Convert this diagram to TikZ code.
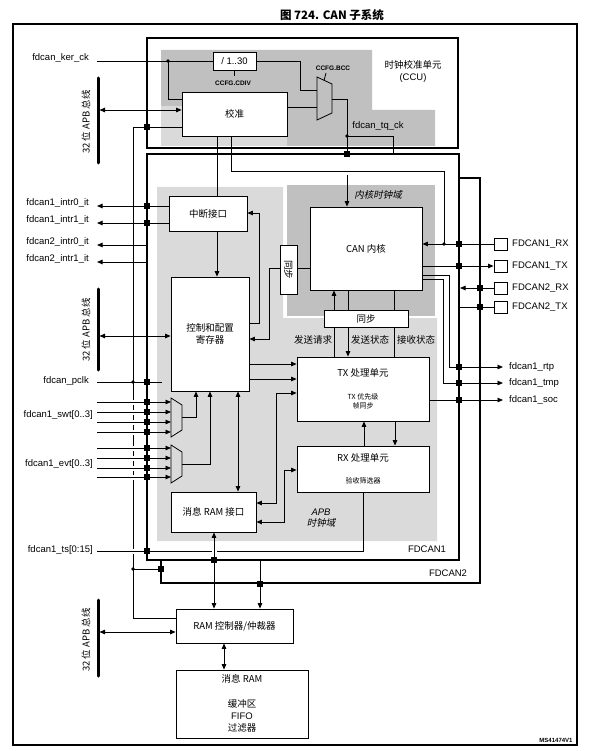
\documentclass[tikz,border=0pt]{standalone}
\usepackage{fontspec}
\setmainfont{Liberation Sans}
\newfontfamily\cjk{Noto Sans CJK SC}
\newfontfamily\cjki{Noto Sans CJK SC}[FakeSlant=0.2]
\usetikzlibrary{arrows.meta}
\definecolor{gdark}{HTML}{C0C0C0}
\definecolor{glight}{HTML}{DADADA}
\newcommand\bx[7][box]{\node[#1,minimum width={(#5-#3)*1pt},minimum height={(#6-#4)*1pt}] (#2) at ({(#3+#5)/2},{(#4+#6)/2}) {#7};}
\newcommand\myjq[2]{\fill (#1-3,#2-3) rectangle (#1+3,#2+3);}
\newcommand\myjd[2]{\fill (#1,#2) circle[radius=1.8];}
\newcommand\hopgap[2]{\fill[white] (#1-2.5,#2-2.5) rectangle (#1+2.5,#2+2.5);}
\begin{document}
\begin{tikzpicture}[x=1pt,y=-1pt,
  box/.style={draw,fill=white,line width=0.8pt,inner sep=0pt,align=center,font={\cjk\fontsize{9.5}{11.5}\selectfont}},
  frame/.style={draw,fill=white,line width=1.6pt,inner sep=0pt},
  w/.style={line width=0.8pt},
  ar/.style={-{Triangle[length=5.5pt,width=4.5pt]}},
  dar/.style={{Triangle[length=5.5pt,width=4.5pt]}-{Triangle[length=5.5pt,width=4.5pt]}},
  bus/.style={line width=3pt,line cap=round},
  lab/.style={inner sep=0pt,font=\fontsize{9.5}{11}\selectfont},
  clab/.style={inner sep=0pt,font={\cjk\fontsize{9.5}{11}\selectfont}},
  slab/.style={inner sep=0pt,font={\cjk\fontsize{7}{8}\selectfont}},
  tiny/.style={inner sep=0pt,font=\bfseries\fontsize{6.5}{7}\selectfont},
  buslab/.style={inner sep=0pt,rotate=90,font={\cjk\fontsize{9.5}{11}\selectfont}}]
\useasboundingbox (0,0) rectangle (588,751);
\node[inner sep=0pt,font={\cjk\bfseries\fontsize{11.5}{13}\selectfont}] (title) at (332,15) {图 724. CAN 子系统};
\draw[line width=1.2pt] (13,24) rectangle (577,745);

% ---------- CCU ----------
\bx[frame]{ccu}{147}{38}{458}{148}{}
\fill[gdark] (161,50) -- (372,50) -- (372,110) -- (435,110) -- (435,146) -- (161,146) -- cycle;
\fill[glight] (161,106) rectangle (287,146);
\node[clab] (ccut1) at (413,65) {时钟校准单元};
\node[lab] (ccut2) at (413,78) {(CCU)};
\bx{div}{213}{52}{256}{70}{\fontspec{Liberation Sans}/ 1..30}
\bx{cal}{182}{92}{287}{136}{校准}
\node[tiny] (cdiv) at (233,83) {CCFG.CDIV};
\node[tiny] (bcc) at (333,68) {CCFG.BCC};
\node[lab,anchor=east] (kerlab) at (89,58) {fdcan\_ker\_ck};
\coordinate (kin) at (97,61);
\draw[w] (kin) -- (div.west);
\myjd{168}{61}
\draw[w] (168,61) -- (168,99) -- (cal.west |- 0,99);
\draw[w] (div.east) -- (300,61) -- (300,90) -- (317,90);
\draw[w] (div.south) -- ++(0,6);
\draw[w] (cal.east |- 0,107) -- (317,107);
\draw[w] (317,77) -- (332,84) -- (332,113) -- (317,120) -- cycle;
\draw[w] (324,80.5) -- (326,73);
\draw[w] (332,99) -- (347,99) -- (347,167);
\myjd{347}{136}
\draw[w] (347,136) -- (393,136) -- (393,154);
\node[lab] (tqlab) at (378,126) {fdcan\_tq\_ck};

% bus 1
\draw[bus] (98,78) -- (98,163);
\node[buslab] (bus1lab) at (86,122) {32 位 APB 总线};
\draw[w,dar] (99.5,110) -- (cal.west |- 0,110);

% ---------- FDCAN boxes ----------
\bx[frame]{fd2}{161}{178}{480}{583}{}
\bx[frame]{fd1}{147}{154}{459}{560}{}
\myjq{347}{154}
\fill[glight] (157,187) -- (283,187) -- (283,318) -- (437,318) -- (437,541) -- (157,541) -- cycle;
\fill[gdark] (287,185) rectangle (435,316);
\node[inner sep=0pt,font={\cjki\fontsize{9.5}{11}\selectfont}] (coredom) at (378,195) {内核时钟域};
\node[inner sep=0pt,align=center,font=\fontsize{9.5}{11}\selectfont] (apbdom) at (321,518) {\itshape APB\\\cjki 时钟域};
\node[lab] (fd1lab) at (427,549) {FDCAN1};
\node[lab] (fd2lab) at (448,573) {FDCAN2};

% boxes
\bx{irq}{169}{196}{247}{231}{中断接口}
\bx{ctrl}{171}{277}{249}{391}{控制和配置\\寄存器}
\bx{mri}{171}{492}{256}{532}{消息 RAM 接口}
\bx{core}{310}{207}{422}{290}{CAN 内核}
\bx{syncv}{280}{245}{297}{294}{}
\node[clab,rotate=-90] (syncvt) at (syncv) {同步};
\bx{synch}{324}{310}{408}{327}{同步}
\bx{tx}{297}{357}{429}{421}{}
\node[clab] (txt1) at (363,373) {TX 处理单元};
\node[slab] (txt2) at (363,397) {TX 优先级};
\node[slab] (txt3) at (363,406) {帧同步};
\bx{rx}{297}{446}{429}{492}{}
\node[clab] (rxt1) at (363,458) {RX 处理单元};
\node[slab] (rxt2) at (363,481) {验收筛选器};
\bx{ramc}{176}{609}{293}{643}{RAM 控制器/仲裁器}
\bx{mram}{176}{670}{308}{738}{}
\node[clab] (mt1) at (242,679) {消息 RAM};
\node[clab] (mt2) at (242,704) {缓冲区};
\node[lab] (mt3) at (242,716) {FIFO};
\node[clab] (mt4) at (242,728) {过滤器};

% tq clock into core
\draw[w,ar] (347,175) -- (core.north -| 347,0);
% cal lines down
\draw[w] (cal.south -| 217,0) -- (irq.north -| 217,0);
\draw[w] (cal.south -| 231,0) -- (231,171) -- (444,171) -- (444,244);
\myjd{444}{244}

% APB line x=133
\draw[w] (cal.west |- 0,127) -- (133,127) -- (133,618) -- (ramc.west |- 0,618);
\myjq{147}{127}

% interrupts
\node[lab,anchor=east] (i10) at (89,203) {fdcan1\_intr0\_it};
\node[lab,anchor=east] (i11) at (89,220) {fdcan1\_intr1\_it};
\node[lab,anchor=east] (i20) at (89,242) {fdcan2\_intr0\_it};
\node[lab,anchor=east] (i21) at (89,259) {fdcan2\_intr1\_it};
\draw[w,ar] (irq.west |- 0,206) -- (97,206);
\draw[w,ar] (irq.west |- 0,223) -- (97,223);
\myjq{147}{206}
\myjq{147}{223}
\draw[w,ar] (147,245) -- (97,245);
\draw[w,ar] (147,262) -- (97,262);

\draw[w,ar] (irq.south -| 217,0) -- (ctrl.north -| 217,0);
\draw[w,ar] (ctrl.east |- 0,323) -- (259,323) -- (259,213) -- (irq.east |- 0,213);
\draw[w] (core.west |- 0,268) -- (syncv.east |- 0,268);
\draw[w,ar] (syncv.west |- 0,268) -- (269,268) -- (269,339) -- (ctrl.east |- 0,339);

% bus 2
\draw[bus] (98,289) -- (98,370);
\node[buslab] (bus2lab) at (86,330) {32 位 APB 总线};
\draw[w,dar] (99.5,336) -- (ctrl.west |- 0,336);

% pclk
\node[lab,anchor=east] (pclklab) at (89,381) {fdcan\_pclk};
\draw[w] (97,382) -- (162,382);
\myjd{133}{382}
\myjq{147}{382}

% swt / evt
\node[lab,anchor=east] (swtlab) at (93,415) {fdcan1\_swt[0..3]};
\node[lab,anchor=east] (evtlab) at (93,464) {fdcan1\_evt[0..3]};
\foreach \y in {402,412,422,432,448,458,468,477} {
  \hopgap{133}{\y}
  \draw[w,ar] (97,\y) -- (171,\y);
  \myjq{147}{\y}
}
\draw[w] (171,398) -- (182,405) -- (182,430) -- (171,437) -- cycle;
\draw[w] (171,445) -- (182,452) -- (182,476) -- (171,483) -- cycle;
\draw[w,ar] (182,417) -- (196,417) -- (ctrl.south -| 196,0);
\draw[w,ar] (182,464) -- (210,464) -- (ctrl.south -| 210,0);
\draw[w,dar] (ctrl.south -| 238,0) -- (mri.north -| 238,0);

% ctrl -> tx, mri <-> tx/rx
\draw[w,ar] (ctrl.east |- 0,364) -- (tx.west |- 0,364);
\draw[w,ar] (ctrl.east |- 0,379) -- (tx.west |- 0,379);
\draw[w,dar] (mri.east |- 0,503) -- (276,503) -- (276,393) -- (tx.west |- 0,393);
\draw[w,dar] (mri.east |- 0,522) -- (284,522) -- (284,470) -- (rx.west |- 0,470);

% core <-> sync <-> tx
\draw[w,ar] (synch.north -| 334,0) -- (core.south -| 334,0);
\draw[w] (tx.north -| 334,0) -- (synch.south -| 334,0);
\draw[w] (core.south -| 348,0) -- (synch.north -| 348,0);
\draw[w,ar] (synch.south -| 348,0) -- (tx.north -| 348,0);
\draw[w] (core.south -| 394,0) -- (synch.north -| 394,0);
\draw[w] (synch.south -| 394,0) -- (tx.north -| 394,0);
\node[clab] (l1) at (313,340) {发送请求};
\node[clab] (l2) at (370,340) {发送状态};
\node[clab] (l3) at (416,340) {接收状态};
\draw[w,ar] (tx.south -| 395,0) -- (rx.north -| 395,0);
\draw[w,ar] (rx.north -| 364,0) -- (tx.south -| 364,0);

% timestamp
\node[lab,anchor=east] (tslab) at (93,550) {fdcan1\_ts[0:15]};
\hopgap{133}{551}
\draw[w] (97,551) -- (363,551) -- (rx.south -| 363,0);
\myjq{147}{551}
\hopgap{214}{551}
\draw[w,dar] (mri.south -| 214,0) -- (ramc.north -| 214,0);
\myjq{214}{560}
\draw[w,ar] (260,560) -- (ramc.north -| 260,0);
\myjq{260}{584}
\draw[w] (133,569) -- (161,569);
\myjd{133}{569}
\myjq{161}{569}

% bus 3
\draw[bus] (98,600) -- (98,676);
\node[buslab] (bus3lab) at (86,640) {32 位 APB 总线};
\draw[w,dar] (99.5,632) -- (ramc.west |- 0,632);
\draw[w,dar] (ramc.south -| 224,0) -- (mram.north -| 224,0);

% pins
\bx{p1rx}{494}{238}{507}{250}{}
\bx{p1tx}{494}{260}{507}{272}{}
\bx{p2rx}{494}{282}{507}{294}{}
\bx{p2tx}{494}{301}{507}{313}{}
\node[lab,anchor=west] (p1rxl) at (512,244) {FDCAN1\_RX};
\node[lab,anchor=west] (p1txl) at (512,266) {FDCAN1\_TX};
\node[lab,anchor=west] (p2rxl) at (512,288) {FDCAN2\_RX};
\node[lab,anchor=west] (p2txl) at (512,307) {FDCAN2\_TX};
\draw[w,ar] (p1rx.west) -- (core.east |- p1rx.west);
\myjq{459}{244}
\draw[w,ar] (core.east |- p1tx.west) -- (p1tx.west);
\myjq{459}{266}
\draw[w,ar] (p2rx.west) -- (460,288);
\myjq{480}{288}
\draw[w] (459,307) -- (p2tx.west);
\myjq{480}{307}

% rtp tmp soc
\draw[w,ar] (core.east |- 0,275) -- (449,275) -- (449,367) -- (503,367);
\myjq{459}{367}
\draw[w,ar] (core.east |- 0,279) -- (443,279) -- (443,383) -- (503,383);
\myjq{459}{383}
\draw[w,ar] (tx.east |- 0,400) -- (503,400);
\myjq{459}{400}
\node[lab,anchor=west] (rtpl) at (509,367) {fdcan1\_rtp};
\node[lab,anchor=west] (tmpl) at (509,383) {fdcan1\_tmp};
\node[lab,anchor=west] (socl) at (509,400) {fdcan1\_soc};

\node[tiny,font=\bfseries\fontsize{6}{7}\selectfont] (ms) at (556,740) {MS41474V1};
\end{tikzpicture}
\end{document}
